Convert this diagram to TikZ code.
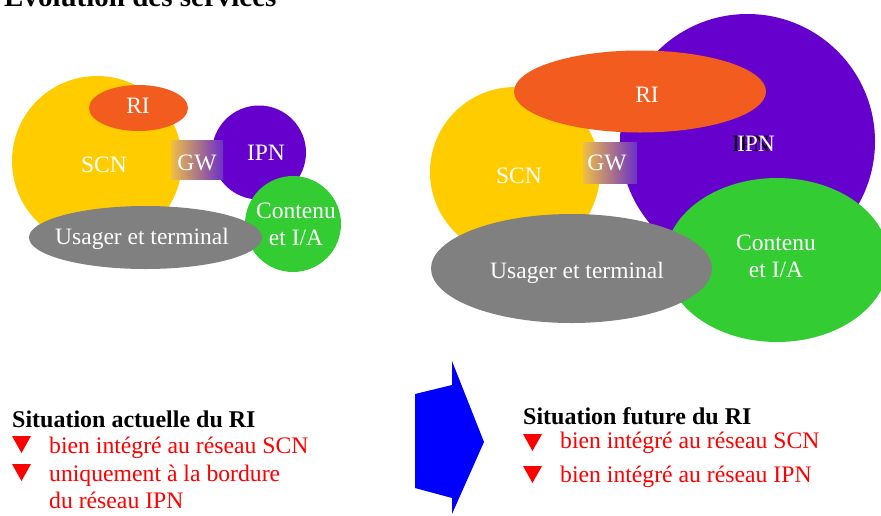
\documentclass[tikz,border=0pt]{standalone}
\usepackage{fontspec}
\setmainfont{Liberation Serif}
\usetikzlibrary{shapes.geometric}

\definecolor{scnyellow}{RGB}{255,204,0}
\definecolor{riorange}{RGB}{242,92,30}
\definecolor{ipnpurple}{RGB}{102,0,204}
\definecolor{contgreen}{RGB}{51,204,51}
\definecolor{usergrey}{RGB}{128,128,128}
\definecolor{gwleft}{RGB}{238,190,70}
\definecolor{gwmid}{RGB}{190,150,185}
\definecolor{gwright}{RGB}{108,48,200}

\tikzset{
  disc/.style={circle, inner sep=0pt, draw=none},
  oval/.style={ellipse, inner sep=0pt, draw=none},
  lbl/.style={text=white, anchor=base, inner sep=0pt, font=\fontsize{23.5}{28}\selectfont},
  heading/.style={anchor=base west, inner sep=0pt, font=\fontsize{24}{28}\selectfont\bfseries},
  bullettext/.style={anchor=base west, inner sep=0pt, text=red, font=\fontsize{23.7}{28}\selectfont},
  bulletmark/.style={fill=red, draw=none},
}

\begin{document}
\begin{tikzpicture}[x=1pt, y=-1pt]
\useasboundingbox (0,0) rectangle (881,515);
\begin{scope}
\clip (0,0) rectangle (881,515);

% title, partly above the page
\node[heading, font=\fontsize{29}{32}\selectfont\bfseries] (title) at (4,6.5) {Évolution des services};

% ---------- current situation ----------
\node[disc, fill=scnyellow, minimum size=170pt] (scnA) at (97,161) {};
\node[oval, fill=riorange, minimum width=99pt, minimum height=46pt] (riA) at (138.5,108) {};
\node[disc, fill=ipnpurple, minimum size=94pt] (ipnA) at (259,152.5) {};
\shade[left color=gwleft, middle color=gwmid, right color=gwright] (171,140) rectangle (223,179);
\node[inner sep=0pt, minimum width=52pt, minimum height=39pt] (gwA) at (197,159.5) {};
\node[disc, fill=contgreen, minimum size=96pt] (contA) at (293,224) {};
\node[oval, fill=usergrey, minimum width=233pt, minimum height=63pt] (userA) at (145.5,237.5) {};

\node[lbl] (riAt) at (138,113) {RI};
\node[lbl] (scnAt) at (104,172) {SCN};
\node[lbl] (gwAt) at (197,170) {GW};
\node[lbl] (ipnAt) at (266,160) {IPN};
\node[lbl] (userAt) at (142,244) {Usager et terminal};
\node[lbl] (contAt) at (296,218) {Contenu};
\node[lbl] (contAt2) at (296,245) {et I/A};

% ---------- future situation ----------
\node[disc, fill=ipnpurple, minimum size=255pt] (ipnB) at (747.5,141.5) {};
\node[disc, fill=scnyellow, minimum size=170pt] (scnB) at (515,172) {};
\node[oval, fill=riorange, minimum width=252pt, minimum height=82pt] (riB) at (640,91.5) {};
\shade[left color=gwleft, middle color=gwmid, right color=gwright] (583,142) rectangle (637,183);
\node[inner sep=0pt, minimum width=54pt, minimum height=41pt] (gwB) at (610,162.5) {};
\node[oval, fill=contgreen, minimum width=224pt, minimum height=164pt] (contB) at (777,260) {};
\node[oval, fill=usergrey, minimum width=281pt, minimum height=109pt] (userB) at (571.5,268.5) {};

\node[lbl] (riBt) at (647,102) {RI};
\node[lbl] (scnBt) at (519,183) {SCN};
\node[lbl] (gwBt) at (607,170) {GW};
\node[lbl, text=black] (ipnBk) at (751,151) {IPN};
\node[lbl] (ipnBt) at (756,151) {IPN};
\node[lbl] (userBt) at (577,278) {Usager et terminal};
\node[lbl] (contBt) at (776,250) {Contenu};
\node[lbl] (contBt2) at (776,277) {et I/A};

% ---------- transition arrow ----------
\fill[blue] (415,394) -- (452,385) -- (452,361) -- (484,442) -- (452,514)
  -- (452,498) -- (415,488) -- cycle;

% ---------- left caption ----------
\node[heading] (capA) at (12,427) {Situation actuelle du RI};
\fill[bulletmark] (12,436) -- (31,436) -- (21.5,453) -- cycle;
\node[bullettext] (a1) at (49,453) {bien intégré au réseau SCN};
\fill[bulletmark] (12,464) -- (31,464) -- (21.5,481) -- cycle;
\node[bullettext] (a2) at (49,481) {uniquement à la bordure};
\node[bullettext] (a3) at (49,508) {du réseau IPN};

% ---------- right caption ----------
\node[heading] (capB) at (523,424) {Situation future du RI};
\fill[bulletmark] (523,434) -- (542,434) -- (532.5,451) -- cycle;
\node[bullettext] (b1) at (560,448) {bien intégré au réseau SCN};
\fill[bulletmark] (523,466) -- (542,466) -- (532.5,483) -- cycle;
\node[bullettext] (b2) at (560,482) {bien intégré au réseau IPN};
\end{scope}
\end{tikzpicture}
\end{document}
